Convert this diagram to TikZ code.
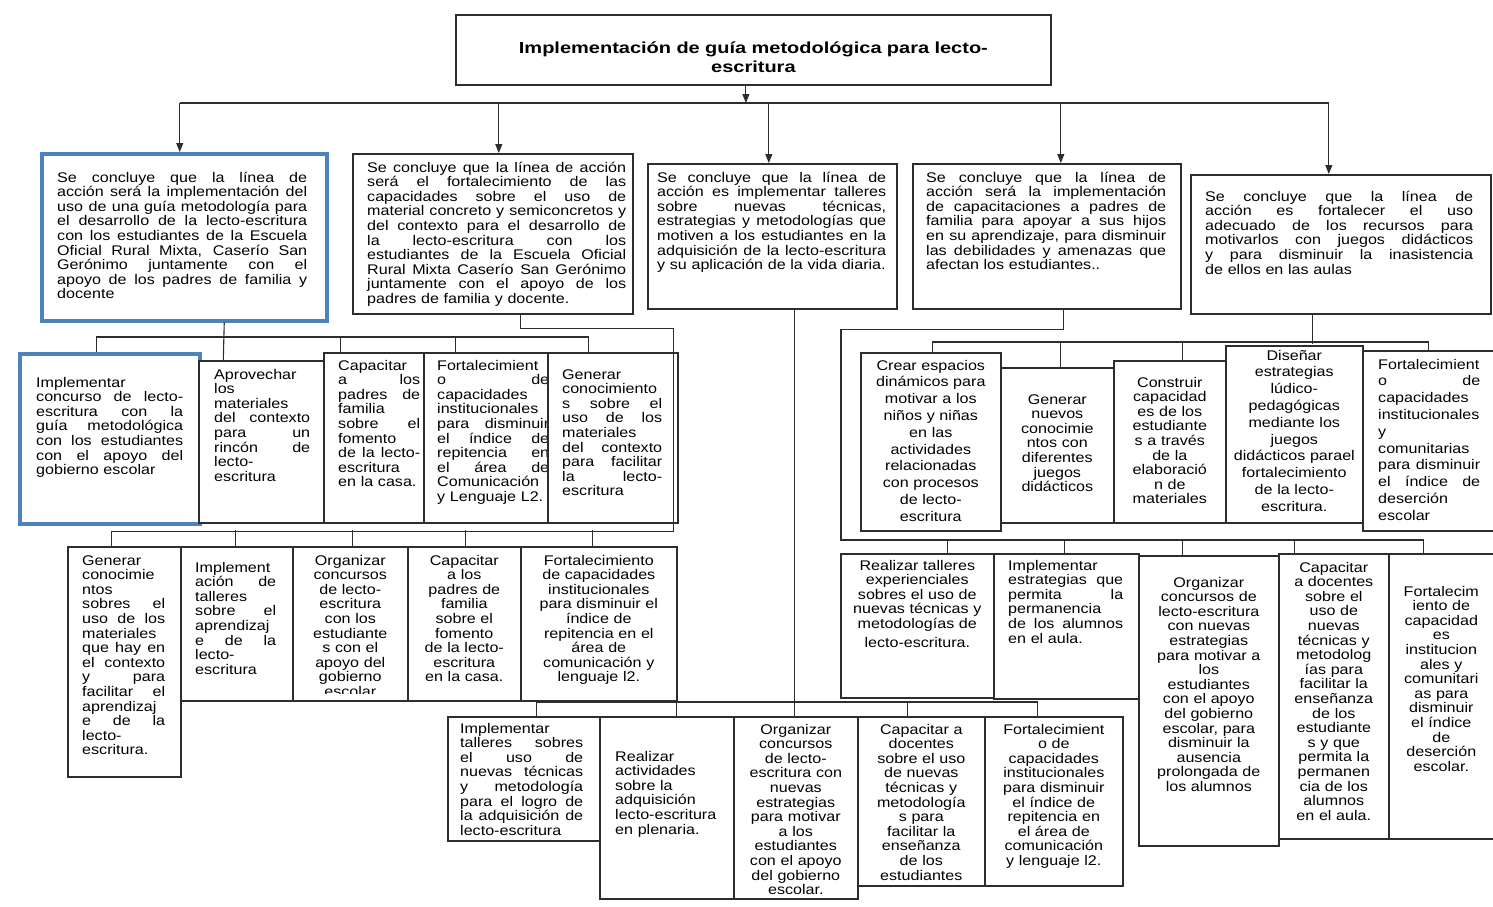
\documentclass[tikz,border=0pt]{standalone}
\usepackage{fontspec}
\setmainfont{Liberation Sans}[FakeStretch=1.15]
\newfontfamily\fuentetitulo{Liberation Sans}[FakeStretch=1.25]
\usetikzlibrary{arrows.meta}
\definecolor{azulmarco}{RGB}{79,129,189}
\definecolor{trazo}{RGB}{45,45,45}
\newcommand\lin[1]{\hbox to\linewidth{\spaceskip=\fontdimen2\font plus 1fil\xspaceskip=\spaceskip\relax #1}}
\newcommand\fin[1]{\hbox to\linewidth{#1\hfil}}
\hyphenpenalty=10000
\exhyphenpenalty=10000
\tikzset{
  caja/.style={draw=trazo, line width=1.6pt, fill=white, anchor=north west, inner sep=0pt},
  cajaazul/.style={caja, draw=azulmarco, line width=3.5pt},
  texto/.style={inner sep=0pt, font=\fontsize{14}{14.6}\selectfont},
  amplio/.style={font=\fontsize{14}{16.8}\selectfont},
  just/.style={texto, anchor=base west},
  centrado/.style={texto, anchor=base, align=center},
  enlace/.style={draw=trazo, line width=1.1pt},
}
\begin{document}
\begin{tikzpicture}[x=1pt,y=-1pt,>={Triangle[length=9pt,width=7pt]}]
\useasboundingbox[fill=white] (0,0) rectangle (1493,907);
% titulo
\node[caja, minimum width=595, minimum height=70, line width=1.8pt] (titulo) at (455,14) {};
\node[centrado, font=\fuentetitulo\bfseries\fontsize{16}{20}\selectfont, text width=580] (titulot) at ([yshift=-39]titulo.north) {Implementación de guía metodológica para lecto-\\escritura};
% lineas de accion
\node[cajaazul, minimum width=285, minimum height=167] (b1) at (40,152) {};
\node[just, text width=250] (b1t) at ([xshift=17,yshift=-30]b1.north west) {
\lin{Se concluye que la línea de}
\lin{acción será la implementación del}
\lin{uso de una guía metodología para}
\lin{el desarrollo de la lecto-escritura}
\lin{con los estudiantes de la Escuela}
\lin{Oficial Rural Mixta, Caserío San}
\lin{Gerónimo juntamente con el}
\lin{apoyo de los padres de familia y}
\fin{docente}};
\node[caja, minimum width=280, minimum height=160] (b2) at (352,153) {};
\node[just, text width=259] (b2t) at ([xshift=15,yshift=-19]b2.north west) {
\lin{Se concluye que la línea de acción}
\lin{será el fortalecimiento de las}
\lin{capacidades sobre el uso de}
\lin{material concreto y semiconcretos y}
\lin{del contexto para el desarrollo de}
\lin{la lecto-escritura con los}
\lin{estudiantes de la Escuela Oficial}
\lin{Rural Mixta Caserío San Gerónimo}
\lin{juntamente con el apoyo de los}
\fin{padres de familia y docente.}};
\node[caja, minimum width=249, minimum height=145] (b3) at (647,163) {};
\node[just, text width=229] (b3t) at ([xshift=10,yshift=-19]b3.north west) {
\lin{Se concluye que la línea de}
\lin{acción es implementar talleres}
\lin{sobre nuevas técnicas,}
\lin{estrategias y metodologías que}
\lin{motiven a los estudiantes en la}
\lin{adquisición de la lecto-escritura}
\fin{y su aplicación de la vida diaria.}};
\node[caja, minimum width=268, minimum height=145] (b4) at (912,163) {};
\node[just, text width=240] (b4t) at ([xshift=14,yshift=-19]b4.north west) {
\lin{Se concluye que la línea de}
\lin{acción será la implementación}
\lin{de capacitaciones a padres de}
\lin{familia para apoyar a sus hijos}
\lin{en su aprendizaje, para disminuir}
\lin{las debilidades y amenazas que}
\fin{afectan los estudiantes..}};
\node[caja, minimum width=300, minimum height=139] (b5) at (1190,174) {};
\node[just, text width=268] (b5t) at ([xshift=15,yshift=-27]b5.north west) {
\lin{Se concluye que la línea de}
\lin{acción es fortalecer el uso}
\lin{adecuado de los recursos para}
\lin{motivarlos con juegos didácticos}
\lin{y para disminuir la inasistencia}
\fin{de ellos en las aulas}};
% segundo nivel, izquierda
\node[cajaazul, minimum width=180, minimum height=170] (l2a) at (18,352) {};
\node[just, text width=147] (l2at) at ([xshift=18,yshift=-35]l2a.north west) {
\fin{Implementar}
\lin{concurso de lecto-}
\lin{escritura con la}
\lin{guía metodológica}
\lin{con los estudiantes}
\lin{con el apoyo del}
\fin{gobierno escolar}};
\node[caja, minimum width=125, minimum height=162] (l2b) at (198,360) {};
\node[just, text width=96] (l2bt) at ([xshift=16,yshift=-19]l2b.north west) {
\fin{Aprovechar}
\fin{los}
\fin{materiales}
\lin{del contexto}
\lin{para un}
\lin{rincón de}
\fin{lecto-}
\fin{escritura}};
\node[caja, minimum width=100, minimum height=170] (l2c) at (323,352) {};
\node[just, text width=82] (l2ct) at ([xshift=15,yshift=-18]l2c.north west) {
\fin{Capacitar}
\lin{a los}
\lin{padres de}
\fin{familia}
\lin{sobre el}
\fin{fomento}
\lin{de la lecto-}
\fin{escritura}
\fin{en la casa.}};
\node[caja, minimum width=124, minimum height=170] (l2d) at (423,352) {};
\node[just, text width=112] (l2dt) at ([xshift=14,yshift=-18]l2d.north west) {
\fin{Fortalecimient}
\lin{o de}
\fin{capacidades}
\fin{institucionales}
\lin{para disminuir}
\lin{el índice de}
\lin{repitencia en}
\lin{el área de}
\fin{Comunicación}
\fin{y Lenguaje L2.}};
\node[caja, minimum width=130, minimum height=170] (l2e) at (547,352) {};
\node[just, text width=100] (l2et) at ([xshift=15,yshift=-27]l2e.north west) {
\fin{Generar}
\fin{conocimiento}
\lin{s sobre el}
\lin{uso de los}
\fin{materiales}
\lin{del contexto}
\lin{para facilitar}
\lin{la lecto-}
\fin{escritura}};
% tercer nivel, izquierda
\node[caja, minimum width=113, minimum height=230] (r3a) at (67,546) {};
\node[just, text width=83] (r3at) at ([xshift=15,yshift=-19]r3a.north west) {
\fin{Generar}
\fin{conocimie}
\fin{ntos}
\lin{sobres el}
\lin{uso de los}
\fin{materiales}
\lin{que hay en}
\lin{el contexto}
\lin{y para}
\lin{facilitar el}
\fin{aprendizaj}
\lin{e de la}
\fin{lecto-}
\fin{escritura.}};
\node[caja, minimum width=112, minimum height=154] (r3b) at (180,546) {};
\node[just, text width=81] (r3bt) at ([xshift=15,yshift=-26]r3b.north west) {
\fin{Implement}
\lin{ación de}
\fin{talleres}
\lin{sobre el}
\fin{aprendizaj}
\lin{e de la}
\fin{lecto-}
\fin{escritura}};
\node[caja, minimum width=115, minimum height=154] (r3c) at (292,546) {};
\begin{scope}
\clip (r3c.north west) rectangle ([yshift=8]r3c.south east);
\node[centrado, text width=110] (r3ct) at ([yshift=-19]r3c.north) {Organizar\\concursos\\de lecto-\\escritura\\con los\\estudiante\\s con el\\apoyo del\\gobierno\\escolar};
\end{scope}
\node[caja, minimum width=113, minimum height=154] (r3d) at (407,546) {};
\node[centrado, text width=108] (r3dt) at ([yshift=-19]r3d.north) {Capacitar\\a los\\padres de\\familia\\sobre el\\fomento\\de la lecto-\\escritura\\en la casa.};
\node[caja, minimum width=156, minimum height=154] (r3e) at (520,546) {};
\node[centrado, text width=150] (r3et) at ([yshift=-19]r3e.north) {Fortalecimiento\\de capacidades\\institucionales\\para disminuir el\\índice de\\repitencia en el\\área de\\comunicación y\\lenguaje l2.};
% cuarto nivel
\node[caja, minimum width=152, minimum height=124] (r4a) at (447,716) {};
\node[just, text width=123] (r4at) at ([xshift=13,yshift=-17]r4a.north west) {
\fin{Implementar}
\lin{talleres sobres}
\lin{el uso de}
\lin{nuevas técnicas}
\lin{y metodología}
\lin{para el logro de}
\lin{la adquisición de}
\fin{lecto-escritura}};
\node[caja, minimum width=134, minimum height=182] (r4b) at (599,716) {};
\node[just, align=left, text width=118] (r4bt) at ([xshift=16,yshift=-45]r4b.north west) {Realizar\\actividades\\sobre la\\adquisición\\lecto-escritura\\en plenaria.};
\node[caja, minimum width=124, minimum height=182] (r4c) at (733,716) {};
\node[centrado, text width=118] (r4ct) at ([yshift=-18]r4c.north) {Organizar\\concursos\\de lecto-\\escritura con\\nuevas\\estrategias\\para motivar\\a los\\estudiantes\\con el apoyo\\del gobierno\\escolar.};
\node[caja, minimum width=127, minimum height=169] (r4d) at (857,716) {};
\node[centrado, text width=121] (r4dt) at ([yshift=-18]r4d.north) {Capacitar a\\docentes\\sobre el uso\\de nuevas\\técnicas y\\metodología\\s para\\facilitar la\\enseñanza\\de los\\estudiantes};
\node[caja, minimum width=138, minimum height=169] (r4e) at (984,716) {};
\node[centrado, text width=132] (r4et) at ([yshift=-18]r4e.north) {Fortalecimient\\o de\\capacidades\\institucionales\\para disminuir\\el índice de\\repitencia en\\el área de\\comunicación\\y lenguaje l2.};
% segundo nivel, derecha
\node[caja, minimum width=140, minimum height=178] (r2a) at (860,352) {};
\node[centrado, amplio, text width=134] (r2at) at ([yshift=-18]r2a.north) {Crear espacios\\dinámicos para\\motivar a los\\niños y niñas\\en las\\actividades\\relacionadas\\con procesos\\de lecto-\\escritura};
\node[caja, minimum width=113, minimum height=155] (r2b) at (1000,367) {};
\node[centrado, text width=107] (r2bt) at ([yshift=-37]r2b.north) {Generar\\nuevos\\conocimie\\ntos con\\diferentes\\juegos\\didácticos};
\node[caja, minimum width=112, minimum height=162] (r2c) at (1113,360) {};
\node[centrado, text width=106] (r2ct) at ([yshift=-27]r2c.north) {Construir\\capacidad\\es de los\\estudiante\\s a través\\de la\\elaboració\\n de\\materiales};
\node[caja, minimum width=137, minimum height=177] (r2d) at (1225,345) {};
\node[centrado, amplio, text width=131] (r2dt) at ([yshift=-15]r2d.north) {Diseñar\\estrategias\\lúdico-\\pedagógicas\\mediante los\\juegos\\didácticos parael\\fortalecimiento\\de la lecto-\\escritura.};
\node[caja, minimum width=131, minimum height=180] (r2e) at (1362,350) {};
\node[just, amplio, text width=102] (r2et) at ([xshift=16,yshift=-19]r2e.north west) {
\fin{Fortalecimient}
\lin{o de}
\fin{capacidades}
\fin{institucionales}
\fin{y}
\fin{comunitarias}
\lin{para disminuir}
\lin{el índice de}
\fin{deserción}
\fin{escolar}};
% tercer nivel, derecha
\node[caja, minimum width=153, minimum height=144] (r3ra) at (840,553) {};
\node[centrado, text width=147] (r3rat) at ([yshift=-17]r3ra.north) {Realizar talleres\\experienciales\\sobres el uso de\\nuevas técnicas y\\metodologías de\\[4.4pt]lecto-escritura.};
\node[caja, minimum width=145, minimum height=145] (r3rb) at (993,553) {};
\node[just, text width=115] (r3rbt) at ([xshift=15,yshift=-17]r3rb.north west) {
\fin{Implementar}
\lin{estrategias que}
\lin{permita la}
\fin{permanencia}
\lin{de los alumnos}
\fin{en el aula.}};
\node[caja, minimum width=140, minimum height=290] (r3rc) at (1138,555) {};
\node[centrado, text width=134] (r3rct) at ([yshift=-32]r3rc.north) {Organizar\\concursos de\\lecto-escritura\\con nuevas\\estrategias\\para motivar a\\los\\estudiantes\\con el apoyo\\del gobierno\\escolar, para\\disminuir la\\ausencia\\prolongada de\\los alumnos};
\node[caja, minimum width=110, minimum height=285] (r3rd) at (1278,553) {};
\node[centrado, text width=104] (r3rdt) at ([yshift=-19]r3rd.north) {Capacitar\\a docentes\\sobre el\\uso de\\nuevas\\técnicas y\\metodolog\\ías para\\facilitar la\\enseñanza\\de los\\estudiante\\s y que\\permita la\\permanen\\cia de los\\alumnos\\en el aula.};
\node[caja, minimum width=105, minimum height=285] (r3re) at (1388,553) {};
\node[centrado, text width=99] (r3ret) at ([yshift=-43]r3re.north) {Fortalecim\\iento de\\capacidad\\es\\institucion\\ales y\\comunitari\\as para\\disminuir\\el índice\\de\\deserción\\escolar.};
% conectores
\coordinate (barra) at (0,103);
\coordinate (a1) at ([xshift=-4.5]b1.north);
\coordinate (a2) at ([xshift=6]b2.north);
\coordinate (a3) at ([xshift=-3.5]b3.north);
\coordinate (a4) at ([xshift=14]b4.north);
\coordinate (a5) at ([xshift=-12]b5.north);
\draw[enlace,->] ([xshift=-7.5]titulo.south) -- ([xshift=-7.5]titulo.south |- barra);
\draw[enlace] (a1 |- barra) -- (a5 |- barra);
\foreach \a in {a1,a2,a3,a4,a5}
  \draw[enlace,->] (\a |- barra) -- (\a);
\draw[enlace] ([xshift=40]b1.south) -- ([xshift=-38]l2b.north);
\draw[enlace] ([xshift=-13]l2a.north) -- ++(0,-15) -| ([xshift=-24]l2e.north);
\draw[enlace] ([xshift=-33]l2c.north) -- ++(0,-15);
\draw[enlace] ([xshift=-30]l2d.north) -- ++(0,-15);
\coordinate (esq) at ([xshift=-5,yshift=-8]l2e.south east);
\draw[enlace] ([xshift=28]b2.south) -- ++(0,14) -| (esq) -| ([xshift=-13]r3a.north);
\draw[enlace] ([xshift=-1]r3b.north) -- ++(0,-16);
\draw[enlace] ([xshift=2.5]r3c.north) -- ++(0,-16);
\draw[enlace] ([xshift=1.5]r3d.north) -- ++(0,-16);
\draw[enlace] ([xshift=-6]r3e.north) -- ++(0,-16);
\draw[enlace] ([xshift=22]b3.south) -- ([xshift=-1.5]r4c.north);
\draw[enlace] ([xshift=13]r4a.north) -- ++(0,-14) -| ([xshift=-16]r4e.north);
\draw[enlace] ([xshift=10]r4b.north) -- ++(0,-14);
\draw[enlace] ([xshift=-13.5]r4d.north) -- ++(0,-14);
\coordinate (esqC) at ([xshift=1,yshift=13]r3ra.north west);
\draw[enlace] ([xshift=17]b4.south) -- ++(0,20) -| (esqC) -| ([xshift=-18]r3re.north);
\draw[enlace] ([xshift=30.5]r3ra.north) -- ++(0,-13);
\draw[enlace] ([xshift=-1.5]r3rb.north) -- ++(0,-13);
\draw[enlace] ([xshift=-26]r3rc.north) -- ++(0,-15);
\draw[enlace] ([xshift=-39]r3rd.north) -- ++(0,-13);
\draw[enlace] ([xshift=-28]b5.south) -- ++(0,29);
\draw[enlace] ([xshift=2]r2a.north) -- ++(0,-10) -| (r2e.north);
\draw[enlace] ([xshift=3.5]r2b.north) -- ++(0,-25);
\draw[enlace] ([xshift=13]r2c.north) -- ++(0,-18);
\end{tikzpicture}
\end{document}
